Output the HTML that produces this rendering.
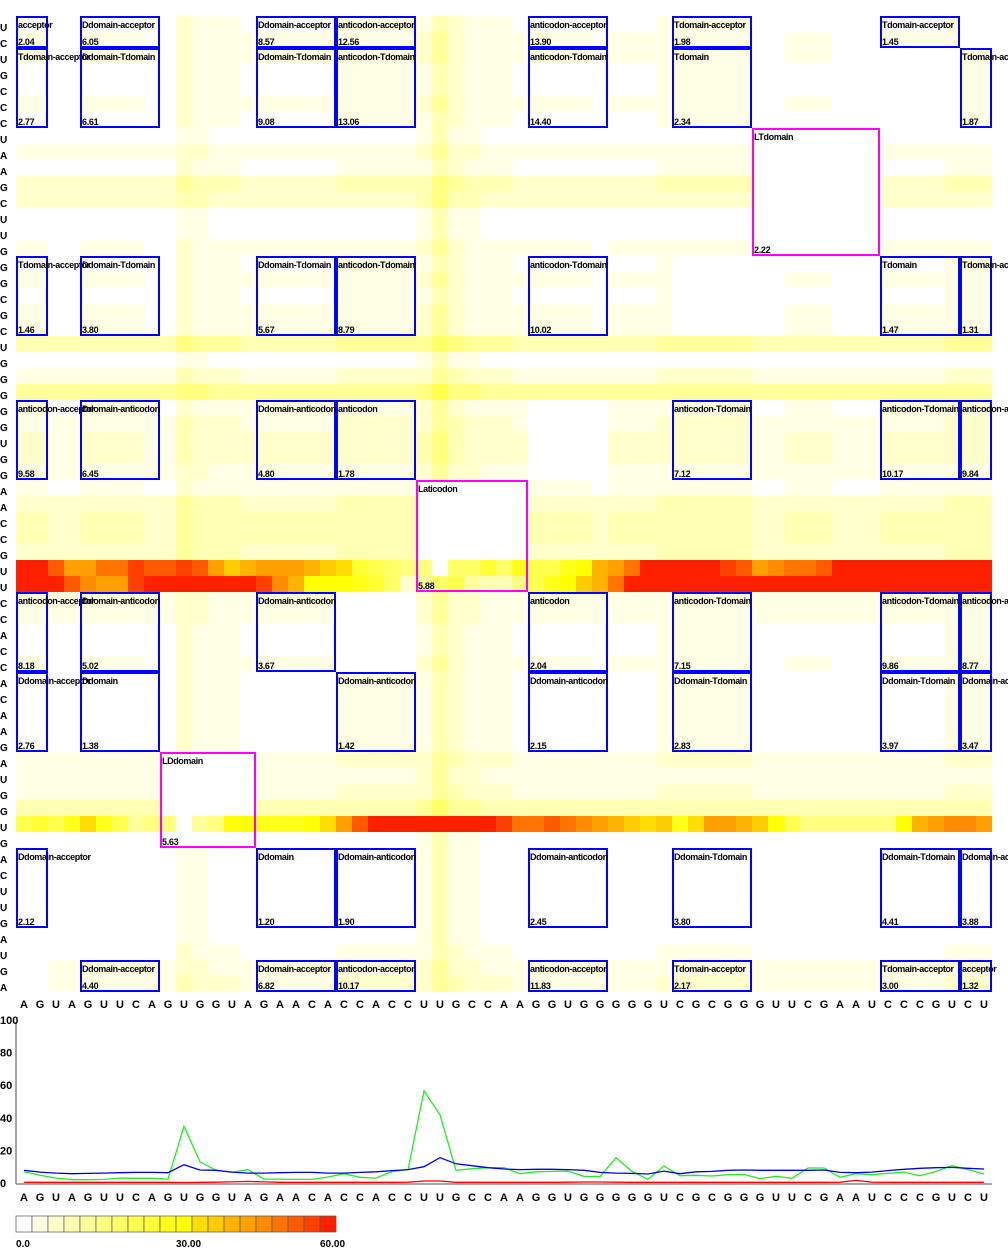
<!DOCTYPE html>
<html><head><meta charset="utf-8">
<style>
html,body{margin:0;padding:0;background:#fff;width:1008px;height:1248px;overflow:hidden}
svg text{font-family:"Liberation Sans","DejaVu Sans",sans-serif}
</style></head>
<body>
<svg id="chart" xmlns="http://www.w3.org/2000/svg" width="1008" height="1248" viewBox="0 0 1008 1248">
<g id="heat"></g>
<g id="boxes"></g>
<g id="rowlabels"></g>
<g id="collabels"></g>
<g id="line"></g>
<g id="cbar"></g>
</svg>
<script>
const sequence = "AGUAGUUCAGUGGUAGAACACCACCUUGCCAAGGUGGGGGUCGCGGGUUCGAAUCCCGUCU".split("");
const rowBase = [1,2,2,1,1,2,1,0,3,1,7,6,0,0,2,1,2,1,2,2,10,0,4,12,2,4,5,5,3,2,7,8,8,7,0,0,3,3,1,1,2,1,1,1,1,1,4,3,4,9,0,0,0,0,0,0,0,0,1,3,4];
const colBase = [1,1,0,0,1,1,1,1,0,0,5,3,2,2,1,1,1,1,1,1,2,2,2,2,2,4,10,5,3,2,2,1,1,1,1,1,0,1,1,1,2,2,2,2,2,2,0,0,1,1,1,0,0,0,1,1,1,1,2,2,2];
const row34 = [60,60,52,42,42,50,50,55,53,53,55,52,42,36,39,42,42,42,39,36,35,26,21,20,16,15,0,18,20,24,18,27,22,22,27,32,41,43,50,60,60,60,60,60,56,52,43,47,50,50,52,60,60,60,60,60,60,60,60,60,60];
const row35 = [60,60,60,52,47,43,43,56,60,60,60,60,60,60,60,56,47,40,30,30,30,28,25,20,8,14,20,23,14,10,10,15,21,27,32,36,41,50,60,60,60,60,60,60,60,60,60,60,60,60,60,60,60,60,60,60,60,60,60,60,60];
const row50 = [21,26,23,27,35,27,21,14,17,15,0,14,17,31,31,28,27,28,31,33,43,52,60,60,60,60,60,60,60,60,54,50,50,52,50,46,44,40,36,33,36,27,33,42,43,41,36,30,23,17,17,17,17,17,17,30,39,43,46,46,42];
const domainNames = ["A1","D1","LD","D2","AC1","Lac","AC2","T1","LT","T2","A2"];
const domainStart = [0,4,9,15,20,25,32,41,46,54,59];
const domainEnd =   [2,9,15,20,25,32,37,46,54,59,61];
const boxRowDom = ["A2","A2","A2","A2","A2","A2","A2",
 "T2","T2","T2","T2","T2","T2","T2","LT",
 "T1","T1","T1","T1","T1","T1","T1",
 "AC2","AC2","AC2","AC2","AC2","AC2","AC2","Lac",
 "AC1","AC1","AC1","AC1","AC1","AC1","AC1",
 "D2","D2","D2","D2","D2","D2","D2","LD",
 "D1","D1","D1","D1","D1","D1","D1",
 "A1","A1","A1","A1","A1","A1","A1"];
const boxColDom = ["A1","D1","D2","AC1","AC2","T1","T2",
 "A1","D1","D2","AC1","AC2","T1","A2","LT",
 "A1","D1","D2","AC1","AC2","T2","A2",
 "A1","D1","D2","AC1","T1","T2","A2","Lac",
 "A1","D1","D2","AC2","T1","T2","A2",
 "A1","D1","AC1","AC2","T1","T2","A2","LD",
 "A1","D2","AC1","AC2","T1","T2","A2",
 "D1","D2","AC1","AC2","T1","T2","A2"];
const boxLabels = ["acceptor","Ddomain-acceptor","Ddomain-acceptor","anticodon-acceptor","anticodon-acceptor","Tdomain-acceptor","Tdomain-acceptor",
 "Tdomain-acceptor","Ddomain-Tdomain","Ddomain-Tdomain","anticodon-Tdomain","anticodon-Tdomain","Tdomain","Tdomain-acceptor","LTdomain",
 "Tdomain-acceptor","Ddomain-Tdomain","Ddomain-Tdomain","anticodon-Tdomain","anticodon-Tdomain","Tdomain","Tdomain-acceptor",
 "anticodon-acceptor","Ddomain-anticodon","Ddomain-anticodon","anticodon","anticodon-Tdomain","anticodon-Tdomain","anticodon-acceptor","Laticodon",
 "anticodon-acceptor","Ddomain-anticodon","Ddomain-anticodon","anticodon","anticodon-Tdomain","anticodon-Tdomain","anticodon-acceptor",
 "Ddomain-acceptor","Ddomain","Ddomain-anticodon","Ddomain-anticodon","Ddomain-Tdomain","Ddomain-Tdomain","Ddomain-acceptor","LDdomain",
 "Ddomain-acceptor","Ddomain","Ddomain-anticodon","Ddomain-anticodon","Ddomain-Tdomain","Ddomain-Tdomain","Ddomain-acceptor",
 "Ddomain-acceptor","Ddomain-acceptor","anticodon-acceptor","anticodon-acceptor","Tdomain-acceptor","Tdomain-acceptor","acceptor"];
const boxValues = ["2.04","6.05","8.57","12.56","13.90","1.98","1.45",
 "2.77","6.61","9.08","13.06","14.40","2.34","1.87","2.22",
 "1.46","3.80","5.67","8.79","10.02","1.47","1.31",
 "9.58","6.45","4.80","1.78","7.12","10.17","9.84","5.88",
 "8.18","5.02","3.67","2.04","7.15","9.86","8.77",
 "2.76","1.38","1.42","2.15","2.83","3.97","3.47","5.63",
 "2.12","1.20","1.90","2.45","3.80","4.41","3.88",
 "4.40","6.82","10.17","11.83","2.17","3.00","1.32"];
const greenSeries = [7,4.7,3,2,2,2.2,3,2.9,2.9,2.4,34.7,13,7.8,6.5,8.2,2.4,2.4,2.2,2.2,3.7,5.7,3.5,3,7,8.2,56.5,41.8,7.8,8.8,9.4,9.4,5.7,6.9,7.1,7.3,4.1,3.9,15.5,7.1,2.2,10.4,4.5,4.7,4.3,5.1,5.3,2.7,4.1,2.9,9.2,9.2,3.5,5.7,5.1,5.9,6.7,4.5,7.1,10.6,8.2,5.5];
const blueSeries = [7.8,6.7,6.1,5.7,5.9,6.1,6.3,6.5,6.5,6.3,11.2,8,7.8,6.7,6.1,6.1,6.3,6.5,6.5,6.1,6.1,6.5,6.9,7.6,8.2,10,15.5,11.8,10.6,9.4,8.6,8.2,8.4,8.4,8.2,7.8,6.5,6.1,5.9,5.5,7.3,5.7,6.9,7.1,7.8,8,7.8,7.8,7.8,7.8,8,6.5,6.3,6.7,7.6,8.4,9,9.4,9.6,9,8.6];
const redSeries = [0.4,0.4,0.4,0.4,0.4,0.4,0.4,0.4,0.4,0.4,0.3,0.4,0.5,0.7,1,0.7,0.4,0.4,0.4,0.4,0.4,0.4,0.4,0.4,0.5,1.2,1.2,0.4,0.4,0.4,0.4,0.4,0.4,0.4,0.5,0.6,0.6,0.5,0.4,0.4,0.4,0.4,0.4,0.4,0.4,0.4,0.4,0.4,0.4,0.4,0.4,0.5,1.6,0.5,0.4,0.4,0.4,0.4,0.4,0.4,0.4];
const yTicks = [0,20,40,60,80,100];
const cbarLabels = ["0.0","30.00","60.00"];
const cbarValues = [0,30,60];

const NS="http://www.w3.org/2000/svg";
const palette=["#ffffff","#ffffe6","#ffffcc","#ffffb3","#ffff99","#ffff80","#ffff66","#ffff4d","#ffff33","#ffff1a","#ffff00","#ffdd00","#ffcc00","#ffb300","#ffa000","#ff8c00","#ff7300","#ff5a00","#ff4000","#ff2000"];
function mk(tag,attrs,parent){const e=document.createElementNS(NS,tag);for(const k in attrs)e.setAttribute(k,attrs[k]);parent.appendChild(e);return e;}
const X0=16,Y0=16,CS=16,N=61;
const xCell=c=>X0+c*CS, yCell=r=>Y0+r*CS;
function colorFor(v){let i=Math.floor(v/3);if(i<0)i=0;if(i>19)i=19;return palette[i];}
function domainOf(p){for(let i=0;i<domainNames.length;i++)if(p>=domainStart[i]&&p<domainEnd[i])return domainNames[i];return null;}

const heat=document.getElementById('heat');
for(let r=0;r<N;r++){for(let c=0;c<N;c++){
  let v;
  if(r===34)v=row34[c];else if(r===35)v=row35[c];else if(r===50)v=row50[c];
  else{v=rowBase[r]+colBase[c];const dr=domainOf(60-r),dc=domainOf(c);if(dr&&dr===dc)v=v*0.15;}
  const el=mk('rect',{x:xCell(c),y:yCell(r),width:CS,height:CS,fill:colorFor(v)},heat);
  
  
}}

const boxes=document.getElementById('boxes');
for(let i=0;i<boxLabels.length;i++){
  const ci=domainNames.indexOf(boxColDom[i]), ri=domainNames.indexOf(boxRowDom[i]);
  const x=xCell(domainStart[ci]), w=(domainEnd[ci]-domainStart[ci])*CS;
  const y=yCell(60-(domainEnd[ri]-1)), h=(domainEnd[ri]-domainStart[ri])*CS;
  const same=boxRowDom[i]===boxColDom[i];
  const g=mk('g',{},boxes);
  
  
  const rc=mk('rect',{x:x+1,y:y+1,width:w-2,height:h-2,fill:'none',stroke:same?'#ff00ff':'#0000ff','stroke-width':2},g);
  
  
  const t1=mk('text',{x:x+2,y:y+12,'font-size':9,'font-weight':'bold','letter-spacing':'-0.4',fill:'#000'},g);
  t1.textContent=boxLabels[i];
  
  
  const t2=mk('text',{x:x+2,y:y+h-3,'font-size':9,'font-weight':'bold','letter-spacing':'-0.3',fill:'#000'},g);
  t2.textContent=boxValues[i];
  
  
}

const rl=document.getElementById('rowlabels');
for(let r=0;r<N;r++){const t=mk('text',{x:0,y:yCell(r)+15,'font-size':10,'font-weight':'bold'},rl);t.textContent=sequence[60-r];
  
  }
const cl=document.getElementById('collabels');
for(let c=0;c<N;c++){
  const t=mk('text',{x:xCell(c)+8,y:1008,'font-size':11,'font-weight':'bold','text-anchor':'middle'},cl);t.textContent=sequence[c];
  
  
  const t2=mk('text',{x:xCell(c)+8,y:1201,'font-size':11,'font-weight':'bold','text-anchor':'middle'},cl);t2.textContent=sequence[c];
  
  
}

const line=document.getElementById('line');
const LY0=1183, LY100=1020;
const yv=v=>LY0-(v/100)*(LY0-LY100);
const xv=c=>xCell(c)+8;
const ax=mk('line',{x1:16,y1:1022,x2:16,y2:1184,stroke:'#888','stroke-width':1.5},line);


const bx=mk('line',{x1:16,y1:1184,x2:992,y2:1184,stroke:'#888','stroke-width':1.5},line);


yTicks.forEach(v=>{const t=mk('text',{x:0,y:yv(v)+4,'font-size':11,'font-weight':'bold'},line);t.textContent=String(v);
  
  });
function series(arr,color,name){
  const pts=arr.map((v,c)=>xv(c)+','+yv(v).toFixed(1)).join(' ');
  const p=mk('polyline',{points:pts,fill:'none',stroke:color,'stroke-width':1.3},line);
  
  
}
series(redSeries,'#ff0000','red-series');
series(greenSeries,'#22ee22','green-series');
series(blueSeries,'#0000ee','blue-series');

const cb=document.getElementById('cbar');
for(let i=0;i<20;i++){const r=mk('rect',{x:16+i*16,y:1216,width:16,height:16,fill:palette[i],stroke:'#555','stroke-width':0.7},cb);
  
  }
const cbx=v=>16+(v/60)*320;
cbarValues.forEach((v,i)=>{const t=mk('text',{x:v===0?16:(v===60?cbx(v)-16:cbx(v)),y:1247,'font-size':10,'font-weight':'bold'},cb);t.textContent=cbarLabels[i];
  
  });
</script>
</body></html>
